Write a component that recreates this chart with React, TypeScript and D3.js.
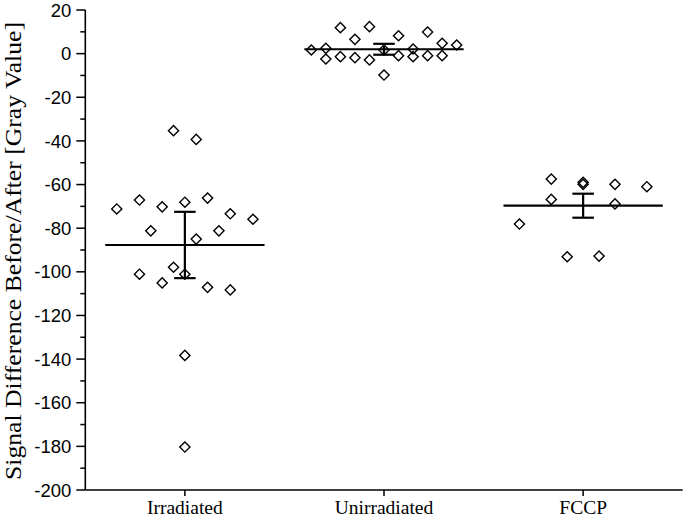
import React from "react";
import * as d3 from "d3";

const categories = ["Irradiated", "Unirradiated", "FCCP"];

const irradiatedValues = [-35.3, -39.3, -71.2, -67.1, -70.2, -68.1, -66.2, -73.4, -75.9, -81.2, -81.2, -85, -97.9, -101.1, -101.1, -105.1, -107.1, -108.3, -138.3, -180.3];
const irradiatedCols = [-1, 1, -6, -4, -2, 0, 2, 4, 6, -3, 3, 1, -1, -4, 0, -2, 2, 4, 0, 0];

const unirradiatedValues = [1.67, 2.45, -2.46, 11.9, -1.4, 6.57, -1.86, 12.35, -2.9, 1.67, -9.8, 8.2, -0.95, 2.13, -1.4, 9.9, -0.95, 4.74, -0.95, 3.96];
const unirradiatedCols = [-5, -4, -4, -3, -3, -2, -2, -1, -1, 0, 0, 1, 1, 2, 2, 3, 3, 4, 4, 5];

const fccpValues = [-57.5, -66.8, -78.1, -59, -59.9, -59.9, -68.9, -61, -93.1, -92.8];
const fccpCols = [-2, -2, -4, 0, 0, 2, 2, 4, -1, 1];

// jitter column step per group, in category units
const jitterSteps = [0.057, 0.073, 0.08];

const means = [-87.7, 2.0, -69.7];
const errors = [15.2, 2.5, 5.5];

const yTicks = [20, 0, -20, -40, -60, -80, -100, -120, -140, -160, -180, -200];
const yMinorTicks = [10, -10, -30, -50, -70, -90, -110, -130, -150, -170, -190];

const groups = [
  { values: irradiatedValues, cols: irradiatedCols },
  { values: unirradiatedValues, cols: unirradiatedCols },
  { values: fccpValues, cols: fccpCols },
];

export default function App() {
  const W = 685;
  const H = 525;
  const left = 85.3;
  const right = 682.7;
  const top = 10;
  const bottom = 490;

  const x = d3.scaleLinear().domain([0.5, 3.5]).range([left, right]);
  const y = d3.scaleLinear().domain([-200, 20]).range([bottom, top]);

  const diamond = d3.symbol().type(d3.symbolSquare).size(52)();
  const meanHalf = x(1.4) - x(1);
  const capHalf = x(1.054) - x(1);

  return (
    <svg width={W} height={H} style={{ position: "absolute", left: 0, top: 0, background: "#fff" }}>
      <rect x={0} y={0} width={W} height={H} fill="#fff" />
      <line x1={left} x2={left} y1={top} y2={bottom} stroke="#000" strokeWidth={1.6} />
      <line x1={left} x2={right} y1={bottom} y2={bottom} stroke="#000" strokeWidth={1.6} />
      {yTicks.map((t) => (
        <g key={"yt" + t}>
          <line x1={left - 9} x2={left} y1={y(t)} y2={y(t)} stroke="#000" strokeWidth={1.5} />
          <text x={left - 14} y={y(t)} dy="0.36em" textAnchor="end" fontFamily="Liberation Sans, Arial, sans-serif" fontSize={18.5} fill="#000">
            {t}
          </text>
        </g>
      ))}
      {yMinorTicks.map((t) => (
        <line key={"ym" + t} x1={left - 5} x2={left} y1={y(t)} y2={y(t)} stroke="#000" strokeWidth={1.5} />
      ))}
      {categories.map((c, i) => (
        <g key={c}>
          <line x1={x(i + 1)} x2={x(i + 1)} y1={bottom} y2={bottom + 6} stroke="#000" strokeWidth={1.5} />
          <text x={x(i + 1)} y={514} textAnchor="middle" fontFamily="Liberation Serif, Times New Roman, serif" fontSize={19.5} fill="#000">
            {c}
          </text>
        </g>
      ))}
      <text
        transform={`translate(21, ${(top + bottom) / 2 + 1}) rotate(-90)`}
        textAnchor="middle"
        fontFamily="Liberation Serif, Times New Roman, serif"
        fontSize={23}
        textLength={458}
        lengthAdjust="spacingAndGlyphs"
        fill="#000"
      >
        Signal Difference Before/After [Gray Value]
      </text>

      {groups.map((g, gi) =>
        g.values.map((v, j) => (
          <path
            key={`p${gi}-${j}`}
            d={diamond as string}
            transform={`translate(${x(gi + 1 + g.cols[j] * jitterSteps[gi])}, ${y(v)}) rotate(45)`}
            fill="none"
            stroke="#000"
            strokeWidth={1.4}
          />
        ))
      )}

      {means.map((m, i) => {
        const cx = x(i + 1);
        return (
          <g key={"m" + i} stroke="#000" strokeWidth={2.2}>
            <line x1={cx - meanHalf} x2={cx + meanHalf} y1={y(m)} y2={y(m)} />
            <line x1={cx} x2={cx} y1={y(m + errors[i])} y2={y(m - errors[i])} />
            <line x1={cx - capHalf} x2={cx + capHalf} y1={y(m + errors[i])} y2={y(m + errors[i])} />
            <line x1={cx - capHalf} x2={cx + capHalf} y1={y(m - errors[i])} y2={y(m - errors[i])} />
          </g>
        );
      })}
    </svg>
  );
}
